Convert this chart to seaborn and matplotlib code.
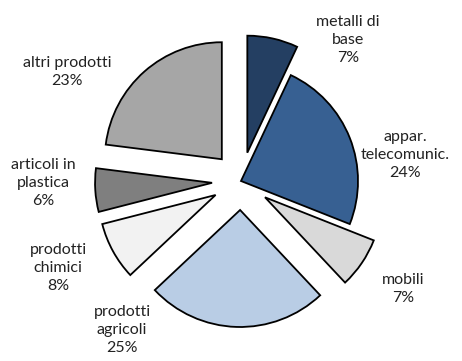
import matplotlib
matplotlib.use("Agg")
import matplotlib.pyplot as plt
import seaborn as sns

# data
categories = ["metalli di\nbase", "appar.\ntelecomunic.", "mobili", "prodotti\nagricoli",
              "prodotti\nchimici", "articoli in\nplastica", "altri prodotti"]
shares = [7, 24, 7, 25, 8, 6, 23]
pulled_out = [True, False, True, True, True, True, True]
slice_colors = ["#243F62", "#376092", "#D9D9D9", "#B9CDE5", "#F2F2F2", "#7F7F7F", "#A6A6A6"]

# label block centres in pixels (x, y from top)
label_pos = [(348, 40), (405, 155), (403, 289), (122, 330), (58, 268), (43, 183), (67, 72)]

W, H = 462, 361
sns.set_theme(style="white")
plt.rcParams["font.family"] = ["Lato", "DejaVu Sans"]

fig = plt.figure(figsize=(W / 100, H / 100), dpi=100)
ax = fig.add_axes([0, 0, 1, 1])

ax.pie(shares, colors=slice_colors, startangle=90, counterclock=False,
       radius=117, center=(241, H - 181), explode=[29 if p else 0 for p in pulled_out],
       wedgeprops=dict(edgecolor="black", linewidth=1.3))

for cat, val, (x, y) in zip(categories, shares, label_pos):
    ax.text(x, H - y, f"{cat}\n{val}%", ha="center", va="center",
            fontsize=11.5, color="#222222", linespacing=1.35)

ax.set_xlim(0, W)
ax.set_ylim(0, H)
ax.set_aspect("equal")
ax.axis("off")
fig.savefig("out.png", dpi=100)
